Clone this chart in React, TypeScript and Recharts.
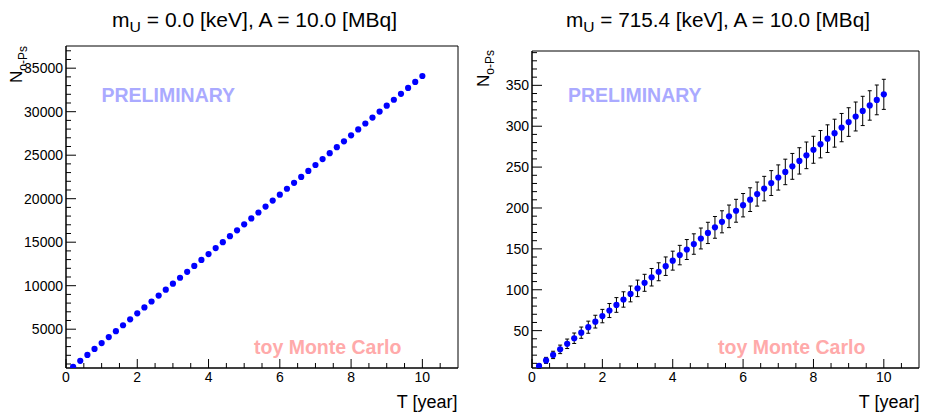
import { ScatterChart, Scatter, XAxis, YAxis, ErrorBar, ReferenceArea } from 'recharts';

// time in years, one point every 0.2 year
const years = [
  0.2, 0.4, 0.6, 0.8, 1.0, 1.2, 1.4, 1.6, 1.8, 2.0,
  2.2, 2.4, 2.6, 2.8, 3.0, 3.2, 3.4, 3.6, 3.8, 4.0,
  4.2, 4.4, 4.6, 4.8, 5.0, 5.2, 5.4, 5.6, 5.8, 6.0,
  6.2, 6.4, 6.6, 6.8, 7.0, 7.2, 7.4, 7.6, 7.8, 8.0,
  8.2, 8.4, 8.6, 8.8, 9.0, 9.2, 9.4, 9.6, 9.8, 10.0,
];

// m_U = 0.0 keV
const countsMu0 = [
  682, 1364, 2046, 2728, 3410, 4092, 4774, 5456, 6138, 6820,
  7502, 8184, 8866, 9548, 10230, 10912, 11594, 12276, 12958, 13640,
  14322, 15004, 15686, 16368, 17050, 17732, 18414, 19096, 19778, 20460,
  21142, 21824, 22506, 23188, 23870, 24552, 25234, 25916, 26598, 27280,
  27962, 28644, 29326, 30008, 30690, 31372, 32054, 32736, 33418, 34100,
];

// m_U = 715.4 keV
const countsMu715 = [
  6.8, 13.6, 20.3, 27.1, 33.9, 40.7, 47.5, 54.2, 61.0, 67.8,
  74.6, 81.4, 88.1, 94.9, 101.7, 108.5, 115.3, 122.0, 128.8, 135.6,
  142.4, 149.2, 155.9, 162.7, 169.5, 176.3, 183.1, 189.8, 196.6, 203.4,
  210.2, 217.0, 223.7, 230.5, 237.3, 244.1, 250.9, 257.6, 264.4, 271.2,
  278.0, 284.8, 291.5, 298.3, 305.1, 311.9, 318.7, 325.4, 332.2, 339.0,
];
const errorsMu715 = [
  2.6, 3.7, 4.5, 5.2, 5.8, 6.4, 6.9, 7.4, 7.8, 8.2,
  8.6, 9.0, 9.4, 9.7, 10.1, 10.4, 10.7, 11.0, 11.3, 11.6,
  11.9, 12.2, 12.5, 12.8, 13.0, 13.3, 13.5, 13.8, 14.0, 14.3,
  14.5, 14.7, 15.0, 15.2, 15.4, 15.6, 15.8, 16.1, 16.3, 16.5,
  16.7, 16.9, 17.1, 17.3, 17.5, 17.7, 17.9, 18.0, 18.2, 18.4,
];

const xTicks = [
  0, 0.5, 1, 1.5, 2, 2.5, 3, 3.5, 4, 4.5, 5, 5.5,
  6, 6.5, 7, 7.5, 8, 8.5, 9, 9.5, 10, 10.5,
];
const yTicksMu0 = [
  1000, 2000, 3000, 4000, 5000, 6000, 7000, 8000, 9000, 10000,
  11000, 12000, 13000, 14000, 15000, 16000, 17000, 18000, 19000, 20000,
  21000, 22000, 23000, 24000, 25000, 26000, 27000, 28000, 29000, 30000,
  31000, 32000, 33000, 34000, 35000, 36000, 37000,
];
const yTicksMu715 = [
  10, 20, 30, 40, 50, 60, 70, 80, 90, 100,
  110, 120, 130, 140, 150, 160, 170, 180, 190, 200,
  210, 220, 230, 240, 250, 260, 270, 280, 290, 300,
  310, 320, 330, 340, 350, 360, 370, 380, 390,
];

const FONT = '"Liberation Sans", Arial, Helvetica, sans-serif';
const BLUE = '#0000ff';

const dataMu0 = years.map((t, i) => ({ t, n: countsMu0[i] }));
const dataMu715 = years.map((t, i) => ({ t, n: countsMu715[i], err: errorsMu715[i] }));

function XTick(props: any) {
  const { x, y, payload } = props;
  const v = payload.value;
  const major = v % 2 === 0;
  return (
    <g>
      <line x1={x} x2={x} y1={y} y2={y - (major ? 9 : 5)} stroke="#000" />
      {major && (
        <text x={x} y={y + 14} textAnchor="middle" fontSize={14} fontFamily={FONT} fill="#000">
          {v}
        </text>
      )}
    </g>
  );
}

function makeYTick(step: number) {
  return (props: any) => {
    const { x, y, payload } = props;
    const v = payload.value;
    const major = v % step === 0;
    return (
      <g>
        <line x1={x} x2={x + (major ? 10 : 5)} y1={y} y2={y} stroke="#000" />
        {major && (
          <text x={x - 3} y={y} dy="0.36em" textAnchor="end" fontSize={14} fontFamily={FONT} fill="#000">
            {v}
          </text>
        )}
      </g>
    );
  };
}

const dot = (p: any) => <circle cx={p.cx} cy={p.cy} r={3.1} fill={BLUE} />;

interface PanelProps {
  data: any[];
  yDomain: [number, number];
  yTicks: number[];
  yStep: number;
  left: number;
  top: number;
  right: number;
  withErrors?: boolean;
}

function Panel({ data, yDomain, yTicks, yStep, left, top, right, withErrors }: PanelProps) {
  return (
    <ScatterChart width={463} height={413} margin={{ top, right, bottom: 0, left: 0 }}>
      <XAxis
        type="number"
        dataKey="t"
        domain={[0, 11]}
        ticks={xTicks}
        interval={0}
        allowDataOverflow
        tickSize={0}
        tickMargin={0}
        height={45}
        axisLine={{ stroke: '#000' }}
        tickLine={false}
        tick={XTick}
      />
      <YAxis
        type="number"
        dataKey="n"
        domain={yDomain}
        ticks={yTicks}
        interval={0}
        allowDataOverflow
        tickSize={0}
        tickMargin={0}
        width={left}
        axisLine={{ stroke: '#000' }}
        tickLine={false}
        tick={makeYTick(yStep)}
      />
      <ReferenceArea x1={0} x2={11} y1={yDomain[0]} y2={yDomain[1]} fill="none" stroke="#000" strokeWidth={1} />
      <Scatter data={data} fill={BLUE} shape={dot} isAnimationActive={false}>
        {withErrors && <ErrorBar dataKey="err" direction="y" width={2} stroke="#000" strokeWidth={1} />}
      </Scatter>
    </ScatterChart>
  );
}

function Title({ cx, mass, len }: { cx: number; mass: string; len: number }) {
  return (
    <text
      x={cx}
      y={27}
      textAnchor="middle"
      fontSize={20}
      fontFamily={FONT}
      fill="#000"
      textLength={len}
      lengthAdjust="spacingAndGlyphs"
    >
      m<tspan fontSize={15} dy={5}>U</tspan>
      <tspan dy={-5}>{` = ${mass} [keV], A = 10.0 [MBq]`}</tspan>
    </text>
  );
}

function YTitle({ x, y }: { x: number; y: number }) {
  return (
    <text transform={`translate(${x},${y}) rotate(-90)`} textAnchor="end" fontSize={17} fontFamily={FONT} fill="#000">
      N<tspan fontSize={12} dy={5}>o-Ps</tspan>
    </text>
  );
}

export default function App() {
  return (
    <div style={{ position: 'absolute', left: 0, top: 0, width: 926, height: 413, background: '#fff' }}>
      <div style={{ display: 'flex' }}>
        <Panel data={dataMu0} yDomain={[540, 37550]} yTicks={yTicksMu0} yStep={5000} left={66} top={46} right={5} />
        <Panel
          data={dataMu715}
          yDomain={[4.3, 392]}
          yTicks={yTicksMu715}
          yStep={50}
          left={69}
          top={51}
          right={7}
          withErrors
        />
      </div>
      <svg width={926} height={413} style={{ position: 'absolute', left: 0, top: 0, pointerEvents: 'none' }}>
        <Title cx={254.5} mass="0.0" len={285} />
        <Title cx={718} mass="715.4" len={304} />
        <YTitle x={21.5} y={46} />
        <YTitle x={488.5} y={50} />
        <g fontFamily={FONT} fontWeight="bold" fontSize={19.5}>
          <text x={101.5} y={101.5} fill="#aaaaff">PRELIMINARY</text>
          <text x={568} y={102} fill="#aaaaff">PRELIMINARY</text>
          <text x={254} y={354} fill="#ffaaaa">toy Monte Carlo</text>
          <text x={718} y={354} fill="#ffaaaa">toy Monte Carlo</text>
        </g>
        <g fontFamily={FONT} fontSize={18} fill="#000" textAnchor="end">
          <text x={457.5} y={408}>T [year]</text>
          <text x={919.5} y={408}>T [year]</text>
        </g>
      </svg>
    </div>
  );
}
